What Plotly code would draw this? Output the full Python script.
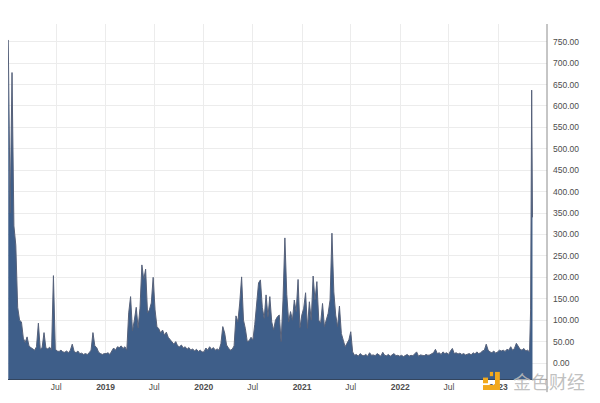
import pandas as pd
import plotly.graph_objects as go

# ---- data (weekly readings, value units) ----
vals_2018 = [754, 350, 678, 320, 275, 130, 100, 96, 58, 48, 61, 40, 36, 33, 30, 38, 93, 32, 36, 71,
             35, 33, 37, 30, 204, 32, 28, 27, 30, 26, 25, 28, 24, 30, 44, 27, 24, 28, 22, 23,
             20, 22, 20, 24, 30, 71, 40, 36, 25, 22, 20, 22]
vals_2019 = [22, 24, 20, 28, 35, 30, 38, 36, 40, 34, 38, 30, 117, 155, 75, 100, 130, 82, 128, 229,
             195, 219, 117, 124, 140, 200, 124, 85, 80, 70, 77, 65, 72, 60, 54, 48, 44, 50, 40, 38,
             42, 35, 38, 32, 36, 30, 33, 28, 32, 27, 30, 26]
vals_2020 = [26, 35, 30, 38, 32, 36, 30, 33, 30, 45, 85, 70, 42, 35, 30, 32, 40, 110, 96, 140,
             201, 100, 80, 50, 52, 60, 54, 90, 143, 187, 194, 130, 104, 159, 108, 155, 96, 77, 100, 108,
             112, 50, 147, 292, 160, 96, 120, 100, 147, 120, 195, 82]
vals_2021 = [112, 128, 164, 81, 143, 100, 203, 147, 190, 100, 93, 139, 85, 104, 116, 147, 303, 166, 112, 85,
             133, 69, 54, 38, 46, 54, 73, 26, 18, 20, 16, 22, 18, 17, 20, 16, 24, 18, 19, 17,
             22, 18, 16, 25, 18, 17, 20, 16, 19, 22, 17, 18]
vals_2022 = [16, 18, 15, 17, 20, 16, 18, 17, 22, 26, 16, 19, 18, 17, 20, 18, 19, 22, 24, 32,
             22, 24, 20, 26, 22, 24, 20, 28, 34, 22, 24, 21, 23, 20, 22, 19, 20, 22, 19, 24,
             21, 26, 22, 24, 28, 30, 44, 30, 26, 24, 28, 23]
vals_2023 = [26, 30, 28, 30, 27, 32, 30, 38, 30, 34, 46, 40, 32, 30, 34, 28, 30, 26]

end_dates = ["2023-05-01", "2023-05-05", "2023-05-08"]
end_values = [124, 637, 340]

y_ticks = list(range(0, 751, 50))
x_tick_dates = ["2018-07-01", "2019-01-01", "2019-07-01", "2020-01-01", "2020-07-01",
                "2021-01-01", "2021-07-01", "2022-01-01", "2022-07-01", "2023-01-01"]
x_tick_labels = ["Jul", "<b>2019</b>", "Jul", "<b>2020</b>", "Jul", "<b>2021</b>",
                 "Jul", "<b>2022</b>", "Jul", "<b>2023</b>"]

# ---- build series ----
weekly_values = vals_2018 + vals_2019 + vals_2020 + vals_2021 + vals_2022 + vals_2023
weekly_dates = pd.date_range("2018-01-04", periods=len(weekly_values), freq="7D")
dates = list(weekly_dates) + list(pd.to_datetime(end_dates))
values = weekly_values + end_values

FILL_FLOOR = -100
FILL_COLOR = "#3e5e89"
LINE_COLOR = "#56617a"
GRID = "#ececec"
TEXT = "#4d4d4d"
FONT = "Liberation Sans"

fig = go.Figure()
fig.add_trace(go.Scatter(x=[dates[0], dates[-1]], y=[FILL_FLOOR, FILL_FLOOR], mode="lines",
                         line=dict(width=0), showlegend=False, hoverinfo="skip"))
fig.add_trace(go.Scatter(x=dates, y=values, mode="lines", fill="tonexty",
                         fillcolor=FILL_COLOR, line=dict(color=LINE_COLOR, width=1),
                         showlegend=False))

fig.update_layout(
    width=592, height=395,
    margin=dict(l=0, r=53, t=16, b=24),
    paper_bgcolor="white", plot_bgcolor="white",
    font=dict(family=FONT, size=9, color=TEXT),
    xaxis=dict(range=["2018-01-03", "2023-07-01"], tickvals=x_tick_dates, ticktext=x_tick_labels,
               showgrid=True, gridcolor=GRID, gridwidth=1, zeroline=False,
               showline=True, linecolor="#33455e", linewidth=1,
               ticks="", tickfont=dict(size=8.5, color=TEXT, family=FONT)),
    yaxis=dict(side="right", range=[-37.3, 791.3], tickvals=y_ticks, tickformat=".2f",
               showgrid=True, gridcolor=GRID, gridwidth=1, zeroline=False, showline=False,
               ticks="", ticklabelstandoff=5,
               tickfont=dict(size=8.5, color=TEXT, family=FONT)),
    shapes=[
        dict(type="line", xref="paper", yref="paper", x0=1, x1=1, y0=-0.037, y1=1,
             line=dict(color="#8c8c8c", width=1)),
        # watermark logo blocks
        dict(type="rect", xref="paper", yref="paper", x0=0.9035, x1=0.9125, y0=-0.031, y1=0.02,
             fillcolor="#f2a91c", line=dict(width=0)),
        dict(type="rect", xref="paper", yref="paper", x0=0.8813, x1=0.9125, y0=-0.031, y1=-0.017,
             fillcolor="#f2a91c", line=dict(width=0)),
        dict(type="rect", xref="paper", yref="paper", x0=0.8813, x1=0.8905, y0=-0.012, y1=0.004,
             fillcolor="#f2a91c", line=dict(width=0)),
        dict(type="rect", xref="paper", yref="paper", x0=0.8940, x1=0.9000, y0=0.008, y1=0.02,
             fillcolor="#f2a91c", line=dict(width=0)),
    ],
    annotations=[
        dict(text="金色财经", xref="paper", yref="paper", x=1.003, y=-0.007,
             xanchor="center", yanchor="middle", showarrow=False,
             font=dict(family="Noto Sans CJK SC", size=18, color="rgba(185,185,185,0.9)")),
    ],
)

fig.write_html("out.html")
